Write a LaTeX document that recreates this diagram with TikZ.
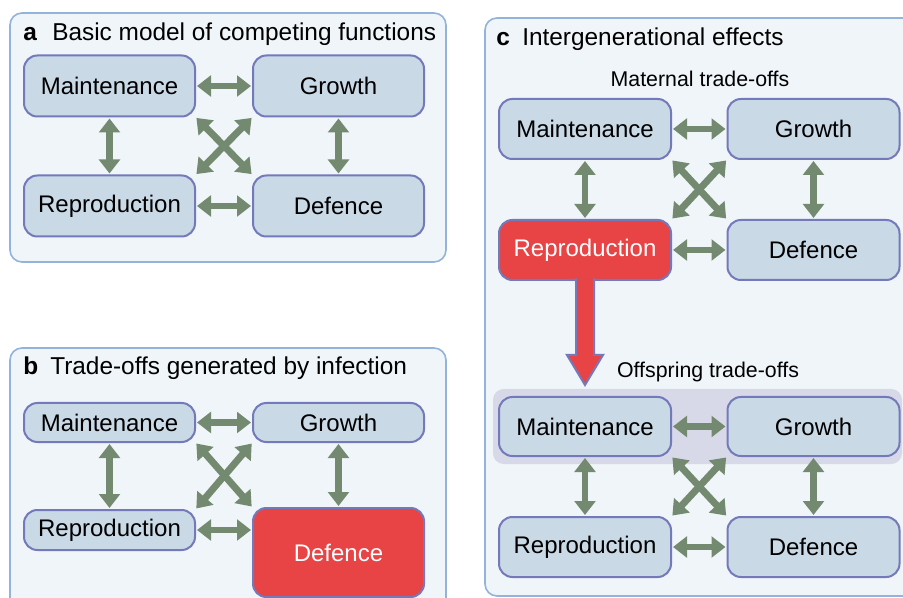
\documentclass[tikz,border=0pt]{standalone}
\usepackage{fontspec}
\setmainfont{Liberation Sans}
\usetikzlibrary{arrows.meta,calc}
\definecolor{panelfill}{HTML}{EFF5F8}
\definecolor{panelborder}{HTML}{94B3DB}
\definecolor{nodefill}{HTML}{C9D9E6}
\definecolor{nodeborder}{HTML}{7479BA}
\definecolor{arrowgreen}{HTML}{738A71}
\definecolor{redfill}{HTML}{E84345}
\definecolor{bandfill}{HTML}{D8D9E8}
\begin{document}
\begin{tikzpicture}[x=0.75pt,y=-0.75pt,
  panel/.style={draw=panelborder, fill=panelfill, line width=1.2pt, rounded corners=9pt},
  band/.style={fill=bandfill, rounded corners=8pt},
  fbox/.style 2 args={draw=nodeborder, fill=nodefill, line width=1.5pt, rounded corners=10pt,
    minimum width=#1*0.75pt, minimum height=#2*0.75pt, inner sep=0pt, outer sep=0pt,
    font=\fontsize{18pt}{20pt}\selectfont, text=black},
  redbox/.style={fill=redfill, text=white},
  title/.style={anchor=base west, inner sep=0pt, font=\fontsize{18.3pt}{21pt}\selectfont},
  sub/.style={anchor=base, inner sep=0pt, font=\fontsize{16pt}{18pt}\selectfont},
  biarrow/.style={draw=arrowgreen, line width=5.2pt,
    {Triangle[width=15.5pt,length=10.5pt]}-{Triangle[width=15.5pt,length=10.5pt]},
    shorten <=1.5pt, shorten >=1.5pt},
  bigarrow/.style={draw=nodeborder, fill=redfill, line width=1.5pt, line join=miter}
]
\useasboundingbox (0,0) rectangle (903,598);
\clip (0,0) rectangle (903,598);

% ---------- panels ----------
\draw[panel] (10,13) rectangle (446,262);
\draw[panel] (10,348) rectangle (446,630);
\draw[panel] (485,18) rectangle (930,596);
\fill[band] (493,389) rectangle (902,464);

% ---------- panel a ----------
\node[title] (aL) at (23,41) {\textbf{a}};
\node[title] (aT) at (52,41) {Basic model of competing functions};
\node[fbox={171}{61}] (aM) at (109.5,86) {Maintenance};
\node[fbox={171}{61}] (aG) at (338.5,86) {Growth};
\node[fbox={171}{61}] (aR) at (109.5,206) {Reproduction};
\node[fbox={171}{61}] (aD) at (338.5,206) {Defence};
\draw[biarrow] (aM.east) -- (aG.west);
\draw[biarrow] (aR.east) -- (aD.west);
\draw[biarrow] (aM.south) -- (aR.north);
\draw[biarrow] (aG.south) -- (aD.north);
\draw[biarrow] (aM.south east) -- (aD.north west);
\draw[biarrow] (aR.north east) -- (aG.south west);

% ---------- panel b ----------
\node[title] (bL) at (23,375) {\textbf{b}};
\node[title] (bT) at (50,375) {Trade-offs generated by infection};
\node[fbox={171}{39}] (bM) at (109.5,422.5) {Maintenance};
\node[fbox={171}{39}] (bG) at (338.5,422.5) {Growth};
\node[fbox={171}{40}] (bR) at (109.5,530) {Reproduction};
\node[fbox={171}{89}, redbox] (bD) at (338.5,552.5) {Defence};
\draw[biarrow] (bM.east) -- (bG.west);
\draw[biarrow] (bR.east) -- (bR.east -| bD.west);
\draw[biarrow] (bM.south) -- (bR.north);
\draw[biarrow] (bG.south) -- (bD.north);
\draw[biarrow] (bM.south east) -- (bD.north west);
\draw[biarrow] (bR.north east) -- (bG.south west);

% ---------- panel c ----------
\node[title] (cL) at (496,46) {\textbf{c}};
\node[title] (cT) at (522,46) {Intergenerational effects};
\node[sub] (cS1) at (700,87) {Maternal trade-offs};
\node[fbox={172}{60}] (cM) at (585,129) {Maintenance};
\node[fbox={172}{60}] (cG) at (813.5,129) {Growth};
\node[fbox={172}{60}, redbox] (cR) at (585,250) {Reproduction};
\node[fbox={172}{60}] (cD) at (813.5,250) {Defence};
\draw[biarrow] (cM.east) -- (cG.west);
\draw[biarrow] (cR.east) -- (cD.west);
\draw[biarrow] (cM.south) -- (cR.north);
\draw[biarrow] (cG.south) -- (cD.north);
\draw[biarrow] (cM.south east) -- (cD.north west);
\draw[biarrow] (cR.north east) -- (cG.south west);

\coordinate (tip) at ($(cR.south)+(0,105)$);
\path[bigarrow] ($(cR.south)+(-9,-1.5)$) -- ($(cR.south)+(-9,75)$) -- ($(cR.south)+(-18,75)$)
  -- (tip) -- ($(cR.south)+(18,75)$) -- ($(cR.south)+(9,75)$) -- ($(cR.south)+(9,-1.5)$);

\node[sub] (cS2) at (708,378) {Offspring trade-offs};
\node[fbox={172}{59}] (oM) at (585,426.5) {Maintenance};
\node[fbox={172}{59}] (oG) at (813.5,426.5) {Growth};
\node[fbox={172}{60}] (oR) at (585,547) {Reproduction};
\node[fbox={172}{60}] (oD) at (813.5,547) {Defence};
\draw[biarrow] (oM.east) -- (oG.west);
\draw[biarrow] (oR.east) -- (oD.west);
\draw[biarrow] (oM.south) -- (oR.north);
\draw[biarrow] (oG.south) -- (oD.north);
\draw[biarrow] (oM.south east) -- (oD.north west);
\draw[biarrow] (oR.north east) -- (oG.south west);
\end{tikzpicture}
\end{document}
